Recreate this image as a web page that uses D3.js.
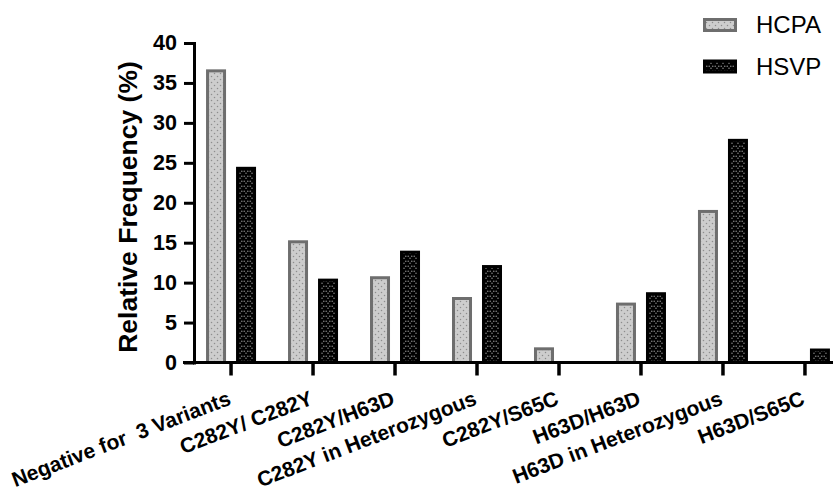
<!DOCTYPE html>
<html><head><meta charset="utf-8">
<script src="https://cdn.jsdelivr.net/npm/d3@7"></script>
<style>
body{margin:0;background:#fff;}
svg{display:block;font-family:"Liberation Sans",Arial,sans-serif;}
</style></head>
<body><svg id="c" width="833" height="492"></svg>
<script>
const categories = ["Negative for \u00a03 Variants","C282Y/ C282Y","C282Y/H63D","C282Y in Heterozygous","C282Y/S65C","H63D/H63D","H63D in Heterozygous","H63D/S65C"];
const seriesNames = ["HCPA","HSVP"];
const hcpa = [36.7, 15.3, 10.8, 8.2, 1.9, 7.5, 19.1, 0];
const hsvp = [24.5, 10.5, 14.0, 12.2, 0, 8.8, 28.0, 1.75];
const yTicks = [0,5,10,15,20,25,30,35,40];
const yTitle = "Relative Frequency (%)";

const svg = d3.select("#c");
const defs = svg.append("defs");
const p1 = defs.append("pattern").attr("id","patA").attr("patternUnits","userSpaceOnUse").attr("width",6).attr("height",6);
p1.append("rect").attr("width",6).attr("height",6).attr("fill","#cdcdcd");
p1.append("circle").attr("cx",1.5).attr("cy",1.5).attr("r",0.75).attr("fill","#8c8c8c");
p1.append("circle").attr("cx",4.5).attr("cy",4.5).attr("r",0.75).attr("fill","#8c8c8c");
const p2 = defs.append("pattern").attr("id","patB").attr("patternUnits","userSpaceOnUse").attr("width",6).attr("height",5);
p2.append("rect").attr("width",6).attr("height",5).attr("fill","#000");
p2.append("circle").attr("cx",1.2).attr("cy",1.2).attr("r",0.7).attr("fill","#9a9a9a");
p2.append("circle").attr("cx",4.8).attr("cy",1.2).attr("r",0.7).attr("fill","#9a9a9a");
p2.append("circle").attr("cx",3).attr("cy",3.2).attr("r",0.7).attr("fill","#9a9a9a");

const styles = {
  HCPA:{fill:"url(#patA)", stroke:"#6e6e6e"},
  HSVP:{fill:"url(#patB)", stroke:"#000"}
};

const y = d3.scaleLinear().domain([0,40]).range([362.5,43]);
const x = d3.scaleBand().domain(categories).range([190.05,845.95]).padding(0);
const xi = d3.scaleBand().domain(seriesNames).range([-25,25]).paddingInner(1/3);

const data = categories.map((c,i)=>({cat:c, HCPA:hcpa[i], HSVP:hsvp[i]}));

const g = svg.append("g");
const groups = g.selectAll("g.grp").data(data).join("g")
  .attr("transform", d => `translate(${x(d.cat)+x.bandwidth()/2},0)`);
groups.selectAll("rect").data(d => seriesNames.map(s => ({s, v:d[s]})).filter(e => e.v>0)).join("rect")
  .attr("x", e => xi(e.s)+1.5)
  .attr("width", xi.bandwidth()-3)
  .attr("y", e => y(e.v)+1.5)
  .attr("height", e => Math.max(0, y(0)-y(e.v)-1.5))
  .attr("fill", e => styles[e.s].fill)
  .attr("stroke", e => styles[e.s].stroke)
  .attr("stroke-width", 3);

const ya = svg.append("g").attr("transform","translate(194,0)")
  .call(d3.axisLeft(y).tickValues(yTicks).tickSize(10).tickSizeOuter(0).tickPadding(7));
ya.select(".domain").attr("stroke","#000").attr("stroke-width",3).attr("stroke-linecap","square");
ya.selectAll(".tick line").attr("stroke","#000").attr("stroke-width",3);
ya.selectAll(".tick text").attr("font-family","'Liberation Sans',Arial,sans-serif")
  .attr("font-size",21.5).attr("font-weight","bold").attr("fill","#000");

const xa = svg.append("g").attr("transform","translate(0,362.5)")
  .call(d3.axisBottom(x).tickSize(13).tickSizeOuter(0).tickFormat(""));
xa.select(".domain").remove();
xa.selectAll(".tick line").attr("stroke","#000").attr("stroke-width",3.5);
svg.append("line").attr("x1",183).attr("x2",833).attr("y1",y(0)).attr("y2",y(0))
  .attr("stroke","#000").attr("stroke-width",3);

// x labels, rotated -21 degrees and end-anchored at each tick
svg.append("g").selectAll("text").data(categories).join("text")
  .attr("transform", d => `translate(${(x(d)+x.bandwidth()/2+1).toFixed(2)},404) rotate(-21)`)
  .attr("text-anchor","end")
  .attr("font-size",21).attr("font-weight","bold").attr("fill","#000")
  .text(d => d);

svg.append("text")
  .attr("transform","translate(137,207) rotate(-90)")
  .attr("text-anchor","middle")
  .attr("font-size",26.5).attr("font-weight","bold").attr("fill","#000")
  .text(yTitle);

const leg = svg.append("g");
seriesNames.forEach((s,i) => {
  const yy = 18 + i*41.5;
  leg.append("rect").attr("x",704.5).attr("y",yy+1.5).attr("width",31).attr("height",11)
    .attr("fill",styles[s].fill).attr("stroke",styles[s].stroke).attr("stroke-width",3);
  leg.append("text").attr("x",756).attr("y",yy+15).attr("font-size",24).attr("fill","#000").text(s);
});
</script></body></html>
